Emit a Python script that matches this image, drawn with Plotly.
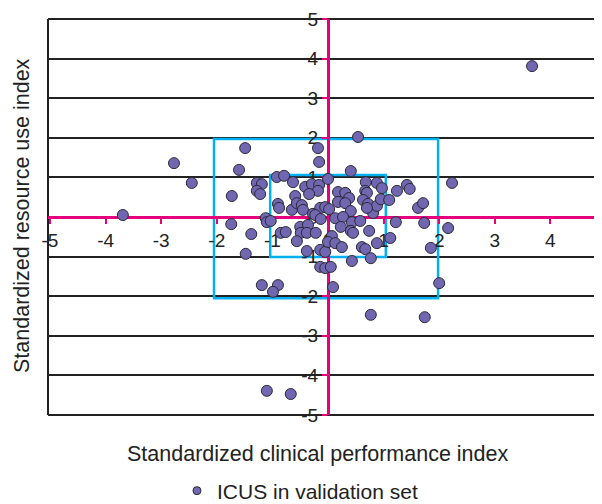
import plotly.graph_objects as go

# Standardized clinical performance index (x) and resource use index (y)
x_perf = [-3.69, -2.77, -2.45, -1.49, -1.60, -1.73, -1.74, -1.38, -1.48, -1.19,
          -0.90, -0.99, -1.10, -0.67, 3.67, 0.54, 2.23, 0.77, 1.74, 2.00,
          0.09, 1.85, 2.16, 1.73, 1.62, 1.71, 1.22, 1.12, 0.41, -0.18,
          -0.16, -1.28, -1.19, -1.28, -1.22, -0.92, -0.79, -0.63, -0.41, -0.29,
          -0.16, -0.18, -0.34, -0.59, 0.00, -0.90, -0.88, -0.65, -0.56, -0.47,
          -0.45, -0.27, -0.14, -0.05, 0.02, -1.12, 0.18, 0.18, 0.68, 0.88,
          0.97, 1.24, 1.42, 1.47, 0.31, 0.38, 0.67, 0.70, 0.31, 0.41,
          0.63, 0.72, 0.81, 0.88, 0.95, 1.10, 0.70, -0.23, -0.13, 0.13,
          0.27, 0.43, 0.58, -1.10, -1.03, -0.85, -0.76, -0.50, -0.49, -0.36,
          -0.38, -0.22, -0.56, -0.38, -0.14, -0.05, -0.14, -0.05, 0.05, 0.23,
          0.41, 0.45, 0.74, 0.07, 0.00, 0.13, 0.25, 0.61, 0.67, 0.88,
          0.43, 0.77]
y_res = [0.05, 1.36, 0.86, 1.74, 1.19, 0.53, -0.18, -0.43, -0.93, -1.72,
         -1.72, -1.89, -4.39, -4.47, 3.81, 2.02, 0.86, -2.47, -2.53, -1.67,
         -1.77, -0.78, -0.28, -0.15, 0.23, 0.35, -0.13, -0.53, 1.16, 1.74,
         1.39, 0.86, 0.83, 0.66, 0.58, 1.01, 1.04, 0.88, 0.76, 0.83,
         0.81, 0.66, 0.58, 0.53, 0.96, 0.33, 0.23, 0.18, 0.35, 0.30,
         0.18, 0.08, 0.23, 0.25, 0.20, -0.03, 0.63, 0.38, 0.88, 0.86,
         0.73, 0.66, 0.81, 0.71, 0.61, 0.48, 0.66, 0.61, 0.35, 0.15,
         0.43, 0.33, 0.10, 0.28, 0.45, 0.43, 0.23, 0.05, -0.05, -0.03,
         0.00, -0.13, -0.10, -0.13, -0.10, -0.40, -0.38, -0.25, -0.40, -0.20,
         -0.40, -0.40, -0.61, -0.86, -0.83, -0.88, -1.26, -1.29, -1.26, -0.25,
         -0.35, -0.40, -0.35, -0.48, -0.63, -0.66, -0.76, -0.76, -0.81, -0.66,
         -1.11, -1.04]

# Reference boxes: [x0, x1, y0, y1]
outer_box = [-2.05, 1.98, -2.05, 1.97]
inner_box = [-1.04, 1.04, -1.01, 1.06]

x_ticks = [-5, -4, -3, -2, -1, 0, 1, 2, 3, 4]
x_tick_labels = ['-5', '-4', '-3', '-2', '-1', '0', '1', '2', '3', '4']
y_ticks = [-5, -4, -3, -2, -1, 0, 1, 2, 3, 4, 5]
y_tick_labels = ['-5', '-4', '-3', '-2', '-1', '0', '1', '2', '3', '4', '5']

PINK = '#E5007D'
BLUE = '#00B0F0'
PURPLE = '#7167B1'
FONT = 'Liberation Sans, Arial, sans-serif'

fig = go.Figure()
fig.add_trace(go.Scatter(
    x=x_perf, y=y_res, mode='markers', showlegend=False,
    marker=dict(size=11, color=PURPLE, line=dict(color='#2a2a3a', width=1)),
))
fig.add_trace(go.Scatter(
    x=[None], y=[None], mode='markers', name='ICUS in validation set',
    marker=dict(size=8, color=PURPLE, line=dict(color='#2a2a3a', width=1)),
))

for b in (outer_box, inner_box):
    fig.add_shape(type='rect', xref='x', yref='y', x0=b[0], x1=b[1], y0=b[2], y1=b[3],
                  line=dict(color=BLUE, width=2.5), layer='between')

# plot frame (left, top, bottom)
for (x0, y0, x1, y1) in [(0, 0, 0, 1), (0, 1, 1, 1), (0, 0, 1, 0)]:
    fig.add_shape(type='line', xref='paper', yref='paper', x0=x0, y0=y0, x1=x1, y1=y1,
                  line=dict(color='#222222', width=2), layer='between')

# the page body adds an 8px offset, so the figure is 8px smaller than the window
fig.update_layout(
    width=594, height=496,
    margin=dict(l=40, r=0, t=11, b=89, autoexpand=False),
    paper_bgcolor='white', plot_bgcolor='white',
    font=dict(family=FONT, color='#222222'),
    xaxis=dict(range=[-5.036, 4.928], anchor='free', position=0.5,
               showline=True, linecolor=PINK, linewidth=3,
               ticks='outside', ticklen=5, tickwidth=2, tickcolor=PINK,
               tickvals=x_ticks, ticktext=x_tick_labels,
               showgrid=False, zeroline=False,
               tickfont=dict(size=19, family=FONT, color='#222222'),
               layer='below traces'),
    yaxis=dict(range=[-5, 5], anchor='free', position=0.5054,
               showline=True, linecolor=PINK, linewidth=3,
               ticks='outside', ticklen=5, tickwidth=2, tickcolor=PINK,
               tickvals=y_ticks, ticktext=y_tick_labels,
               showgrid=True, gridcolor='#222222', gridwidth=1.5,
               zeroline=False,
               tickfont=dict(size=19, family=FONT, color='#222222'),
               layer='below traces'),
    legend=dict(orientation='h', x=0.2328, xanchor='left', y=-0.192, yanchor='middle',
                font=dict(size=21, family=FONT, color='#222222'),
                bgcolor='rgba(0,0,0,0)', borderwidth=0, tracegroupgap=0),
    annotations=[
        dict(text='Standardized clinical performance index', xref='paper', yref='paper',
             x=0.4856, y=-0.098, xanchor='center', yanchor='middle', showarrow=False,
             font=dict(size=21.5, family=FONT, color='#222222')),
        dict(text='Standardized resource use index', xref='paper', yref='paper',
             x=-0.047, y=0.505, xanchor='center', yanchor='middle', showarrow=False,
             textangle=-90, font=dict(size=21.5, family=FONT, color='#222222')),
        dict(text='5', xref='paper', yref='paper', x=1.0072, y=0.5, xanchor='center',
             yanchor='top', yshift=-7, showarrow=False,
             font=dict(size=19, family=FONT, color='#222222')),
    ],
)

fig.write_html('out.html')
